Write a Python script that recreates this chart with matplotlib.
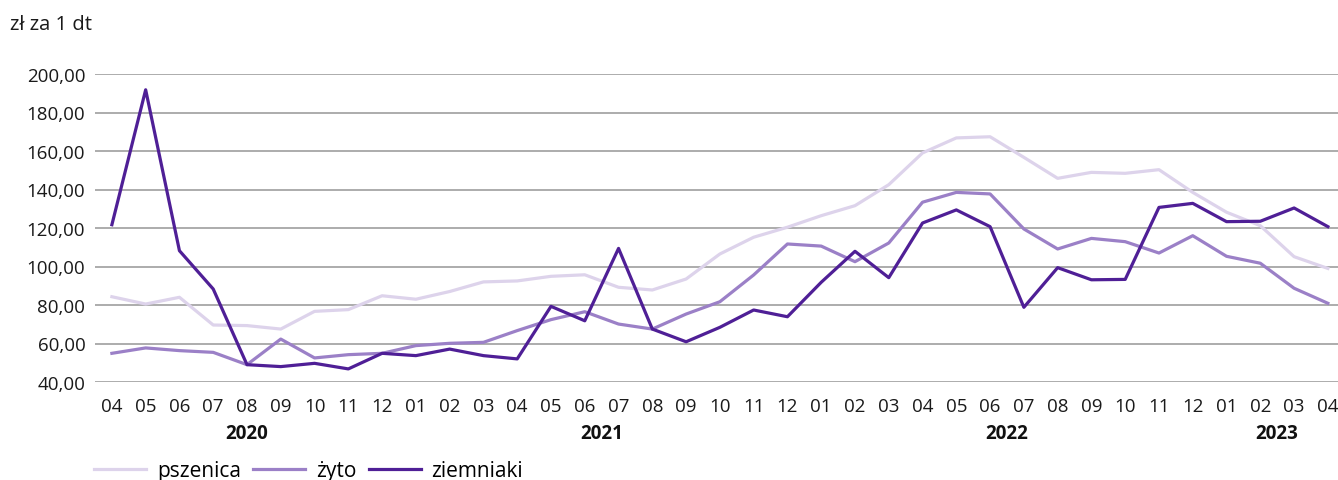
import numpy as np
import matplotlib
matplotlib.use("Agg")
import matplotlib.pyplot as plt
import matplotlib.transforms as mtransforms

plt.rcParams['font.family'] = ['Open Sans', 'DejaVu Sans']

# dane: ceny skupu, zł za 1 dt, 04.2020 - 04.2023
months = ['04', '05', '06', '07', '08', '09', '10', '11', '12',
          '01', '02', '03', '04', '05', '06', '07', '08', '09', '10', '11', '12',
          '01', '02', '03', '04', '05', '06', '07', '08', '09', '10', '11', '12',
          '01', '02', '03', '04']
years = ['2020', '2021', '2022', '2023']
year_spans = [(0, 8), (9, 20), (21, 32), (33, 36)]

pszenica = [84.3, 80.5, 84.0, 69.6, 69.3, 67.5, 76.7, 77.6, 84.8,
            83.0, 87.0, 92.0, 92.5, 94.9, 95.7, 89.2, 87.8, 93.5, 106.5, 115.2, 120.4,
            126.4, 131.6, 142.5, 159.0, 166.8, 167.4, 156.7, 145.8, 148.9, 148.4, 150.3, 138.5,
            128.2, 121.2, 105.1, 99.0]
zyto = [54.9, 57.7, 56.3, 55.4, 49.0, 62.3, 52.5, 54.2, 54.9,
        58.9, 60.1, 60.6, 66.7, 72.4, 76.5, 70.1, 67.5, 75.3, 81.7, 95.6, 111.7,
        110.6, 102.5, 112.2, 133.4, 138.5, 137.7, 119.5, 109.1, 114.6, 112.9, 107.0, 116.0,
        105.3, 101.7, 88.7, 80.9]
ziemniaki = [121.7, 191.8, 108.2, 88.3, 49.0, 48.0, 49.7, 46.8, 54.9,
             53.7, 57.1, 53.7, 52.0, 79.3, 71.8, 109.4, 67.5, 60.9, 68.4, 77.4, 73.9,
             91.8, 107.9, 94.2, 122.6, 129.4, 120.7, 78.8, 99.4, 93.1, 93.3, 130.7, 132.8,
             123.3, 123.5, 130.4, 120.7]

x = np.arange(len(months))

fig = plt.figure(figsize=(13.38, 4.81), dpi=100)
ax = fig.add_axes([95 / 1338, 1 - 383 / 481, 1 - 95 / 1338, 308 / 481])

ax.plot(x, pszenica, color='#ddd3eb', lw=2.3, label='pszenica', solid_joinstyle='round')
ax.plot(x, zyto, color='#9b80c7', lw=2.3, label='żyto', solid_joinstyle='round')
ax.plot(x, ziemniaki, color='#4f1f96', lw=2.3, label='ziemniaki', solid_joinstyle='round')

ax.set_xlim(-0.5, 36.3)
ax.set_ylim(40, 200)
ax.set_yticks(np.arange(40, 201, 20))
ax.set_yticklabels([f'{v:.2f}'.replace('.', ',') for v in np.arange(40, 201, 20)],
                   fontsize=13.5, color='#1a1a1a')
ax.set_xticks(x)
ax.set_xticklabels(months, fontsize=13.5, color='#1a1a1a')
ax.tick_params(axis='both', length=0)
ax.tick_params(axis='x', pad=11)
ax.tick_params(axis='y', pad=7)
ax.grid(axis='y', color='#a6a6a6', lw=1.3)
ax.set_axisbelow(True)
for s in ax.spines.values():
    s.set_visible(False)

# podpisy lat pod miesiącami
trans = mtransforms.blended_transform_factory(ax.transData, ax.transAxes)
for yr, (a, b) in zip(years, year_spans):
    ax.text((a + b) / 2, -0.165, yr, transform=trans, ha='center', va='center',
            fontsize=13.5, fontweight='bold', color='#111111')

fig.text(10 / 1338, 1 - 25 / 481, 'zł za 1 dt', fontsize=14.5, va='center', ha='left',
         color='#1a1a1a')

fig.legend(loc='center left', bbox_to_anchor=(86 / 1338, 1 - 472 / 481), ncol=3,
           frameon=False, fontsize=15, handlelength=2.5, columnspacing=0.6,
           handletextpad=0.5, borderaxespad=0)

fig.savefig('out.png', dpi=100)
